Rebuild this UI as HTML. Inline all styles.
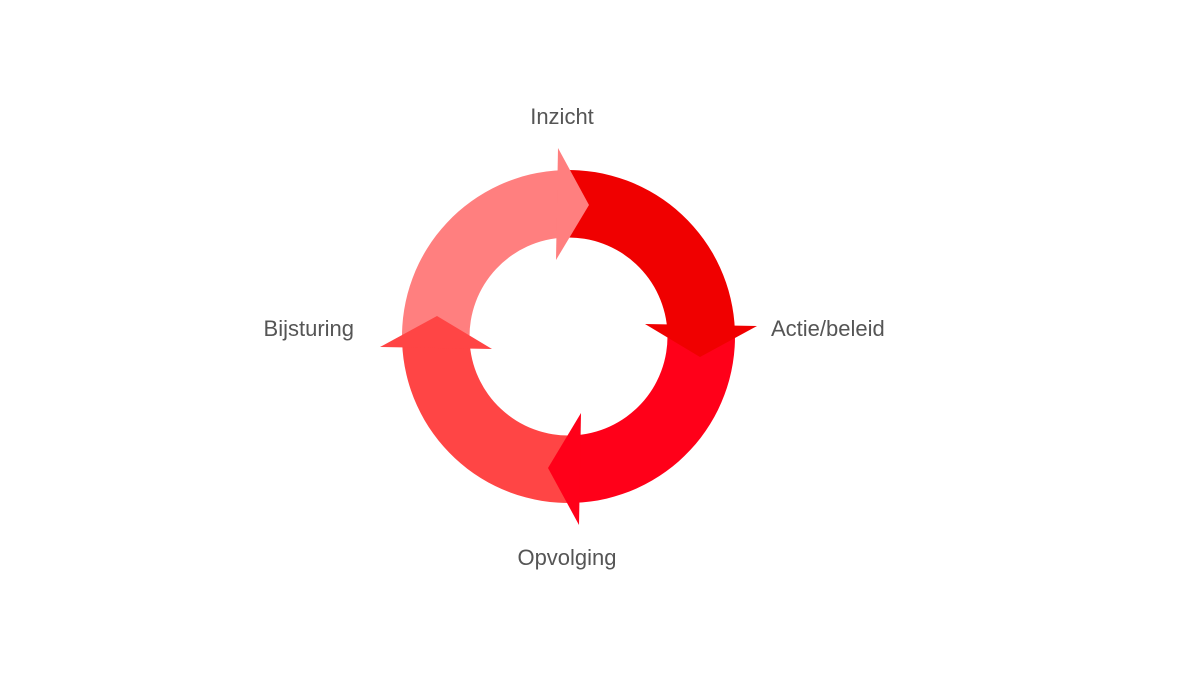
<!DOCTYPE html>
<html><head><meta charset="utf-8"><style>
html,body{margin:0;padding:0;background:#fff;width:1200px;height:700px;overflow:hidden}
svg{position:absolute;left:0;top:0}
text{font-family:"Liberation Sans",sans-serif;font-size:22px;fill:#555}
</style></head><body>
<svg id="s" width="1200" height="700" xmlns="http://www.w3.org/2000/svg">
<g id="bodies"></g><g id="heads"></g>
<text x="562" y="124" text-anchor="middle">Inzicht</text>
<text x="771" y="336">Actie/beleid</text>
<text x="567" y="565" text-anchor="middle">Opvolging</text>
<text x="354" y="336" text-anchor="end">Bijsturing</text>
</svg>
<script>
var cx=568.5,cy=336.5,R=166.5,r=99,NS="http://www.w3.org/2000/svg";
function P(rad,deg){var a=deg*Math.PI/180;return (cx+rad*Math.sin(a)).toFixed(2)+","+(cy-rad*Math.cos(a)).toFixed(2);}
function Q(x,y,k){for(var i=0;i<k;i++){var t=x;x=-y;y=t;}return (cx+x).toFixed(2)+","+(cy+y).toFixed(2);}
var arrows=[{b:-2,c:"#ff7f7f"},{b:88,c:"#f00000"},{b:178,c:"#ff0019"},{b:268,c:"#ff4545"}];
var B=document.getElementById("bodies"),H=document.getElementById("heads");
arrows.forEach(function(a,k){
 var t0=a.b-90,t1=a.b;
 var d="M"+P(R,t0)+" A"+R+","+R+" 0 0 1 "+P(R,t1)+" L"+P(r,t1)+" A"+r+","+r+" 0 0 0 "+P(r,t0)+" Z";
 var p=document.createElementNS(NS,"path");p.setAttribute("d",d);p.setAttribute("fill",a.c);B.appendChild(p);
 var h=document.createElementNS(NS,"path");
 h.setAttribute("d","M"+Q(-10.5,-188.5,k)+" L"+Q(20.5,-131.5,k)+" L"+Q(-12.5,-76.5,k)+" Z");h.setAttribute("fill",a.c);H.appendChild(h);
});
</script>
</body></html>
